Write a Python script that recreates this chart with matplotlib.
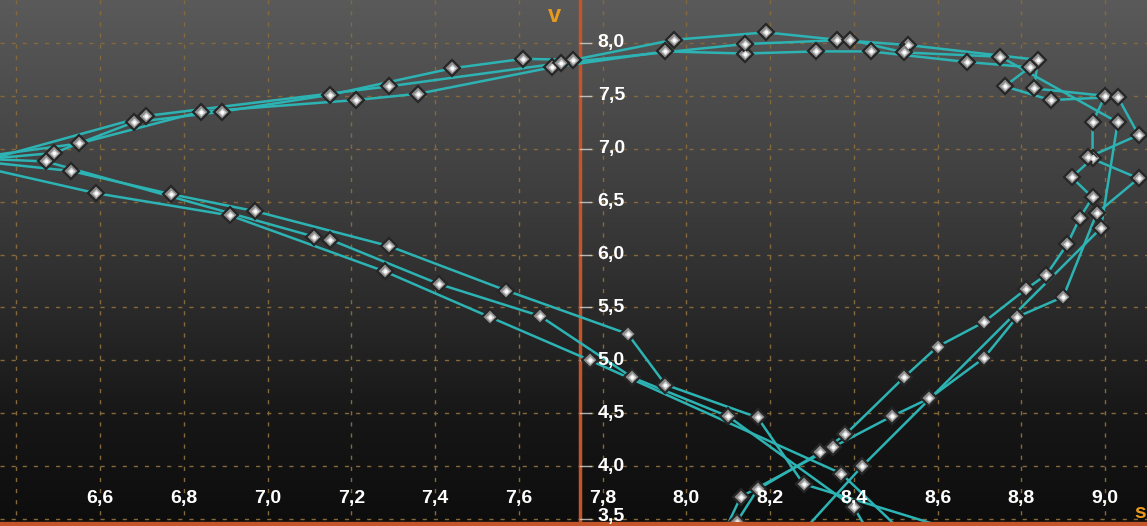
import numpy as np
import matplotlib.pyplot as plt
from matplotlib.colors import LinearSegmentedColormap

# ---- DATA ----
# three passes around the s/v loop
# (first/last points of each pass sit just outside the visible window)
s_pass1 = [8.75, 8.28, 8.17, 7.95, 7.86, 7.57, 7.29, 6.97, 6.77, 6.53, 6.29,
           6.49, 6.68, 6.89, 7.15, 7.44, 7.61, 7.73, 7.97, 8.19, 8.36, 8.53,
           8.84, 8.83, 9.00, 8.97, 8.97, 8.92, 8.97, 8.94, 8.91, 8.86, 8.81,
           8.71, 8.60, 8.52, 8.38, 8.32, 8.17, 8.12, 8.09]
v_pass1 = [3.26, 3.83, 4.46, 4.77, 5.25, 5.66, 6.08, 6.41, 6.57, 6.79, 6.89,
           6.96, 7.25, 7.35, 7.51, 7.76, 7.85, 7.84, 8.03, 8.10, 8.03, 7.98,
           7.84, 7.57, 7.50, 7.25, 6.91, 6.73, 6.54, 6.35, 6.10, 5.81, 5.67,
           5.36, 5.13, 4.84, 4.30, 4.13, 3.78, 3.47, 3.21]

s_pass2 = [8.46, 8.40, 8.10, 7.87, 7.65, 7.41, 7.15, 7.11, 6.47, 6.29,
           6.55, 6.84, 7.21, 7.36, 7.68, 7.95, 8.14, 8.31, 8.44, 8.67, 8.82,
           8.76, 8.87, 9.03, 9.08, 8.96, 9.08, 8.98, 8.90, 8.79, 8.71, 8.58,
           8.49, 8.35, 8.13, 8.07]
v_pass2 = [3.21, 3.61, 4.47, 4.84, 5.42, 5.72, 6.14, 6.17, 6.88, 6.91,
           7.05, 7.35, 7.46, 7.52, 7.77, 7.92, 7.90, 7.92, 7.92, 7.82, 7.77,
           7.59, 7.46, 7.49, 7.13, 6.92, 6.72, 6.39, 5.60, 5.41, 5.02, 4.64,
           4.47, 4.18, 3.71, 3.21]

s_pass3 = [8.56, 8.37, 7.77, 7.53, 7.28, 6.91, 6.59, 6.29,
           6.71, 7.29, 7.70, 8.14, 8.39, 8.52, 8.75, 9.03, 8.99, 8.42, 8.25]
v_pass3 = [3.21, 3.93, 5.00, 5.41, 5.84, 6.37, 6.58, 6.85,
           7.31, 7.59, 7.81, 7.99, 8.03, 7.91, 7.87, 7.25, 6.25, 4.00, 3.26]

x_ticks = [6.6, 6.8, 7.0, 7.2, 7.4, 7.6, 7.8, 8.0, 8.2, 8.4, 8.6, 8.8, 9.0]
y_ticks = [3.5, 4.0, 4.5, 5.0, 5.5, 6.0, 6.5, 7.0, 7.5, 8.0]
x_grid = [6.4] + x_ticks
v_axis_at = 7.745  # where the vertical axis crosses the s axis

# ---- STYLE ----
line_color = '#2db3b3'
grid_color = '#86693a'
axis_color = '#c4542a'
name_color = '#e89a1c'
label_font = ['Liberation Sans Narrow', 'Liberation Sans', 'DejaVu Sans']

fig = plt.figure(figsize=(11.47, 5.26), dpi=100)
ax = fig.add_axes([0, 0, 1, 1])
ax.set_xlim(6.361, 9.10)
ax.set_ylim(3.434, 8.406)
ax.set_axis_off()

# dark vertical gradient background
grad = LinearSegmentedColormap.from_list(
    'bg', [(0.0, '#5a5a5a'), (0.38, '#3d3d3d'), (0.63, '#262626'),
           (0.8, '#161616'), (1.0, '#0d0d0d')])
ax.imshow(np.linspace(0, 1, 256)[:, None], aspect='auto', cmap=grad,
          extent=(6.361, 9.10, 3.434, 8.406), origin='upper', zorder=0)

# dotted grid
for x in x_grid:
    ax.axvline(x, color=grid_color, lw=1, ls=(0, (3, 5)), zorder=1)
for y in y_ticks:
    ax.axhline(y, color=grid_color, lw=1, ls=(0, (3, 5)), zorder=1)

# vertical value axis and the bottom s axis
ax.axvline(v_axis_at, color=axis_color, lw=2.5, zorder=2)
ax.axhline(3.434, color=axis_color, lw=6, zorder=6)

# loop passes: lines first, markers on top
passes = [(s_pass1, v_pass1), (s_pass2, v_pass2), (s_pass3, v_pass3)]
for s, v in passes:
    ax.plot(s, v, color=line_color, lw=1.8, zorder=3, solid_joinstyle='round')
for s, v in passes:
    ax.plot(s, v, ls='none', marker='D', ms=8.5, mfc='#8e8e8e', mec='#262626',
            mew=1.6, zorder=4)
    ax.plot(s, v, ls='none', marker='D', ms=4.5, mfc='#d4d4d4', mec='none',
            zorder=5)
    ax.plot(s, v, ls='none', marker='o', ms=2.5, mfc='white', mec='none',
            zorder=5)

# tick labels with comma decimals
for x in x_ticks:
    ax.annotate(f'{x:.1f}'.replace('.', ','), xy=(x, 0),
                xycoords=('data', 'axes fraction'), xytext=(0, 20),
                textcoords='offset points', ha='center', va='center',
                color='white', fontsize=14, fontweight='bold',
                family=label_font, zorder=7)
for y in y_ticks:
    ax.plot([v_axis_at, v_axis_at + 0.027], [y, y], color='#d8d8d8',
            lw=1, alpha=0.8, zorder=3)
    # lowest label sits on the bottom edge, nudge it so it stays whole
    dy = 1.5 if y == y_ticks[0] else 0
    ax.annotate(f'{y:.1f}'.replace('.', ','), xy=(v_axis_at, y),
                xytext=(13, dy), textcoords='offset points', ha='left',
                va='center', color='white', fontsize=14, fontweight='bold',
                family=label_font, zorder=7)

# axis names
ax.annotate('v', xy=(v_axis_at, 1), xycoords=('data', 'axes fraction'),
            xytext=(-18, -11), textcoords='offset points', ha='center',
            va='center', color=name_color, fontsize=17, fontweight='bold',
            family=label_font, zorder=7)
ax.annotate('s', xy=(1, 0), xycoords='axes fraction', xytext=(-1, 10),
            textcoords='offset points', ha='right', va='center',
            color=name_color, fontsize=15, fontweight='bold',
            family=label_font, zorder=7)

fig.savefig('out.png', dpi=100)
